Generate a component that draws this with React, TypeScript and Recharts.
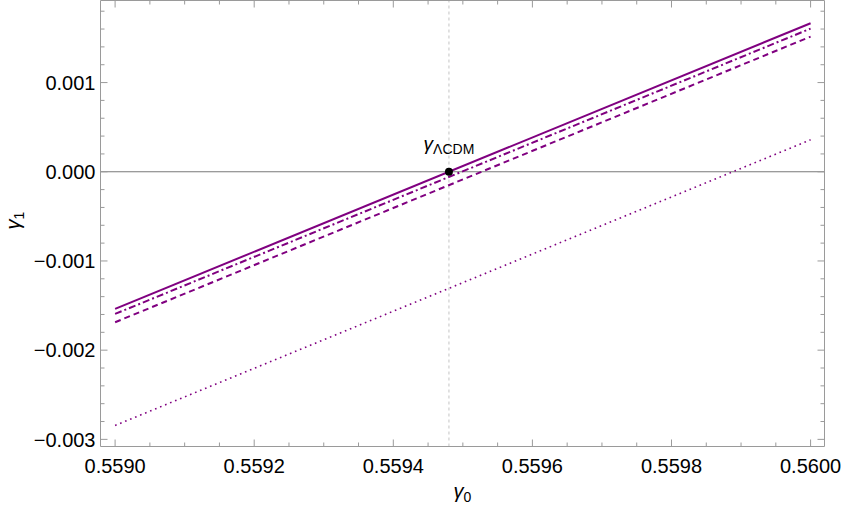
import React from 'react';
import { ComposedChart, Line, XAxis, YAxis, ReferenceLine, ReferenceDot, Label } from 'recharts';

// gamma_0 sample points and gamma_1 values
const gamma0 = [0.559, 0.56];
const solidGamma1 = [-0.001537, 0.001665];
const dashDotGamma1 = [-0.001594, 0.001605];
const dashedGamma1 = [-0.001687, 0.001515];
const dottedGamma1 = [-0.002844, 0.000358];

// LCDM reference point
const lcdmGamma0 = 0.55948;
const lcdmGamma1 = 0;

const xMajorTicks = [0.559, 0.5592, 0.5594, 0.5596, 0.5598, 0.56];
const xMinorTicks = [
  0.55905, 0.5591, 0.55915, 0.55925, 0.5593, 0.55935, 0.55945, 0.5595,
  0.55955, 0.55965, 0.5597, 0.55975, 0.55985, 0.5599, 0.55995,
];
const yMajorTicks = [-0.003, -0.002, -0.001, 0, 0.001];
const yMinorTicks = [
  -0.0028, -0.0026, -0.0024, -0.0022, -0.0018, -0.0016, -0.0014, -0.0012,
  -0.0008, -0.0006, -0.0004, -0.0002, 0.0002, 0.0004, 0.0006, 0.0008,
  0.0012, 0.0014, 0.0016, 0.0018,
];

const xDomain: [number, number] = [0.558979, 0.56002];
const yDomain: [number, number] = [-0.00308, 0.00192];

const data = gamma0.map((g, i) => ({
  g0: g,
  solid: solidGamma1[i],
  dashDot: dashDotGamma1[i],
  dashed: dashedGamma1[i],
  dotted: dottedGamma1[i],
}));

const FONT = '"Liberation Sans", Arial, sans-serif';
const FRAME = '#9a9a9a';
const PURPLE = '#800080';

const isMajor = (v: number, majors: number[]) => majors.some((m) => Math.abs(m - v) < 1e-9);
const fmtY = (v: number) => (Math.abs(v) < 1e-12 ? '0.000' : (v < 0 ? '\u2212' : '') + Math.abs(v).toFixed(3));

const makeTick = (side: 'bottom' | 'top' | 'left' | 'right') => (props: any) => {
  const { x, y, payload } = props;
  const v = payload.value;
  const horiz = side === 'bottom' || side === 'top';
  const major = isMajor(v, horiz ? xMajorTicks : yMajorTicks);
  const len = major ? 7 : 4;
  let line;
  if (side === 'bottom') line = <line x1={x} x2={x} y1={y} y2={y - len} stroke={FRAME} />;
  else if (side === 'top') line = <line x1={x} x2={x} y1={y} y2={y + len} stroke={FRAME} />;
  else if (side === 'left') line = <line x1={x} x2={x + len} y1={y} y2={y} stroke={FRAME} />;
  else line = <line x1={x} x2={x - len} y1={y} y2={y} stroke={FRAME} />;
  return (
    <g>
      {line}
      {major && side === 'bottom' && (
        <text x={x} y={y + 26} textAnchor="middle" fontSize={20} fontFamily={FONT} fill="#000">
          {v.toFixed(4)}
        </text>
      )}
      {major && side === 'left' && (
        <text x={x - 5} y={y} dy="0.36em" textAnchor="end" fontSize={20} fontFamily={FONT} fill="#000">
          {fmtY(v)}
        </text>
      )}
    </g>
  );
};

const XTitle = (props: any) => {
  const { x, y, width } = props.viewBox;
  return (
    <text x={x + width / 2} y={y + 51.5} textAnchor="middle" fontFamily={FONT} fill="#000">
      <tspan fontSize={20} fontStyle="italic">γ</tspan>
      <tspan fontSize={14} dy={4}>0</tspan>
    </text>
  );
};

const YTitle = (props: any) => {
  const { y, height } = props.viewBox;
  return (
    <text transform={`translate(20, ${y + height / 2 - 3}) rotate(-90)`} textAnchor="middle" fontFamily={FONT} fill="#000">
      <tspan fontSize={20} fontStyle="italic">γ</tspan>
      <tspan fontSize={14} dy={4}>1</tspan>
    </text>
  );
};

const LcdmLabel = (props: any) => {
  const { x, y, width, height } = props.viewBox;
  const cx = x + width / 2;
  const cy = y + height / 2;
  return (
    <text x={cx} y={cy - 21.5} textAnchor="middle" fontFamily={FONT} fill="#000">
      <tspan fontSize={19} fontStyle="italic">γ</tspan>
      <tspan fontSize={14} dy={4}>ΛCDM</tspan>
    </text>
  );
};

export default function App() {
  const xTicks = [...xMajorTicks, ...xMinorTicks];
  const yTicks = [...yMajorTicks, ...yMinorTicks];
  return (
    <div style={{ position: 'absolute', left: 0, top: 0, background: '#fff' }}>
      <ComposedChart width={843} height={506} data={data} margin={{ top: -0.5, right: 17.5, bottom: 0, left: 0.5 }}>
        <XAxis
          dataKey="g0"
          type="number"
          domain={xDomain}
          allowDataOverflow
          ticks={xTicks}
          interval={0}
          tickSize={0}
          tickMargin={0}
          tickLine={false}
          tick={makeTick('bottom')}
          axisLine={{ stroke: FRAME }}
          height={59.5}
          label={<Label content={<XTitle />} />}
        />
        <XAxis
          xAxisId="top"
          dataKey="g0"
          orientation="top"
          type="number"
          domain={xDomain}
          allowDataOverflow
          ticks={xTicks}
          interval={0}
          tickSize={0}
          tickMargin={0}
          tickLine={false}
          tick={makeTick('top')}
          axisLine={{ stroke: FRAME }}
          height={1}
        />
        <YAxis
          type="number"
          domain={yDomain}
          allowDataOverflow
          ticks={yTicks}
          interval={0}
          tickSize={0}
          tickMargin={0}
          tickLine={false}
          tick={makeTick('left')}
          axisLine={{ stroke: FRAME }}
          width={100}
          label={<Label content={<YTitle />} />}
        />
        <YAxis
          yAxisId="right"
          orientation="right"
          type="number"
          domain={yDomain}
          allowDataOverflow
          ticks={yTicks}
          interval={0}
          tickSize={0}
          tickMargin={0}
          tickLine={false}
          tick={makeTick('right')}
          axisLine={{ stroke: FRAME }}
          width={1}
        />
        <ReferenceLine x={lcdmGamma0} stroke="#c4c4c4" strokeDasharray="3 3" />
        <ReferenceLine y={0} stroke="#7a7a7a" strokeWidth={1.2} />
        {/* invisible copy so the frame axes on top / right share the same data */}
        <Line xAxisId="top" yAxisId="right" dataKey="solid" stroke="none" dot={false} activeDot={false} legendType="none" isAnimationActive={false} />
        <Line dataKey="dotted" type="linear" stroke={PURPLE} strokeWidth={1.6} strokeDasharray="1.6 3.8" dot={false} activeDot={false} isAnimationActive={false} />
        <Line dataKey="dashed" type="linear" stroke={PURPLE} strokeWidth={2} strokeDasharray="6 4" dot={false} activeDot={false} isAnimationActive={false} />
        <Line dataKey="dashDot" type="linear" stroke={PURPLE} strokeWidth={2} strokeDasharray="7 3 2 3" dot={false} activeDot={false} isAnimationActive={false} />
        <Line dataKey="solid" type="linear" stroke={PURPLE} strokeWidth={2} dot={false} activeDot={false} isAnimationActive={false} />
        <ReferenceDot x={lcdmGamma0} y={lcdmGamma1} r={4} fill="#000" stroke="none" label={<Label content={<LcdmLabel />} />} />
      </ComposedChart>
    </div>
  );
}
